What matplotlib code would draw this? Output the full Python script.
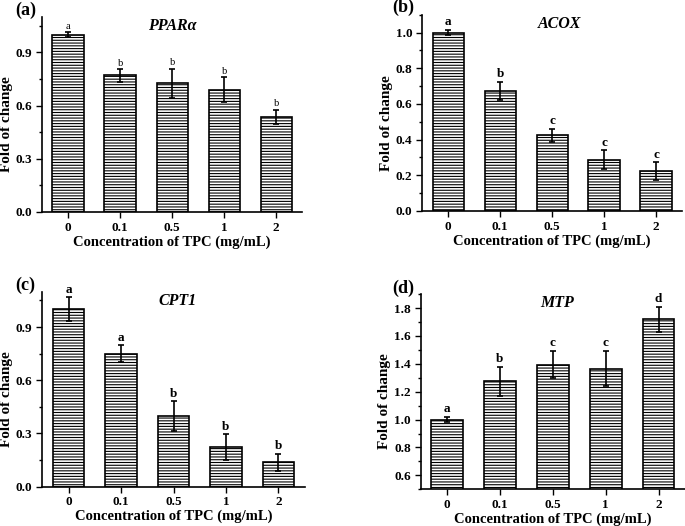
import numpy as np
import matplotlib
matplotlib.use('Agg')
import matplotlib.pyplot as plt
from matplotlib.ticker import MultipleLocator

plt.rcParams['font.family'] = 'Liberation Serif'
plt.rcParams['font.weight'] = 'bold'
plt.rcParams['hatch.linewidth'] = 0.8

# data
concentrations = ['0', '0.1', '0.5', '1', '2']

ppara_mean = [1.0, 0.77, 0.725, 0.69, 0.535]
ppara_err = [0.012, 0.035, 0.083, 0.07, 0.04]
ppara_letters = ['a', 'b', 'b', 'b', 'b']

acox_mean = [1.0, 0.674, 0.423, 0.288, 0.223]
acox_err = [0.015, 0.05, 0.037, 0.053, 0.05]
acox_letters = ['a', 'b', 'c', 'c', 'c']

cpt1_mean = [1.0, 0.75, 0.397, 0.222, 0.137]
cpt1_err = [0.068, 0.046, 0.085, 0.074, 0.05]
cpt1_letters = ['a', 'a', 'b', 'b', 'b']

mtp_mean = [1.0, 1.275, 1.395, 1.366, 1.719]
mtp_err = [0.02, 0.105, 0.1, 0.128, 0.09]
mtp_letters = ['a', 'b', 'c', 'c', 'd']


def draw_panel(ax, means, errs, letters, title, title_x, label, label_pos,
               ylim, major, letter_style):
    x = np.arange(len(concentrations))
    ax.bar(x, means, width=0.6, color='white', edgecolor='black',
           linewidth=1.2, hatch='------', zorder=2)
    ax.errorbar(x, means, yerr=errs, fmt='none', ecolor='black',
                elinewidth=1.2, capsize=2.5, capthick=1.2, zorder=3)
    for xi, m, e, s in zip(x, means, errs, letters):
        ax.text(xi, m + e + 0.008 * (ylim[1] - ylim[0]), s,
                ha='center', va='bottom', **letter_style)

    ax.set_xlim(-0.5, 4.5)
    ax.set_ylim(*ylim)
    ax.set_xticks(x)
    ax.set_xticklabels(concentrations)
    ax.yaxis.set_major_locator(MultipleLocator(major))
    ax.yaxis.set_minor_locator(MultipleLocator(major / 2))
    ax.yaxis.set_major_formatter(plt.FormatStrFormatter('%.1f'))
    ax.tick_params(axis='both', which='major', direction='out', length=4,
                   width=1.0, labelsize=9.5, pad=3)
    ax.tick_params(axis='y', which='minor', direction='out', length=2.5, width=1.0)
    ax.spines['top'].set_visible(False)
    ax.spines['right'].set_visible(False)
    ax.spines['left'].set_linewidth(1.2)
    ax.spines['bottom'].set_linewidth(1.2)

    ax.set_xlabel('Concentration of TPC (mg/mL)', fontsize=10.5, fontweight='bold',
                  labelpad=1)
    ax.set_ylabel('Fold of change', fontsize=11, fontweight='bold', labelpad=2,
                  y=0.45)
    ax.text(title_x, 0.995, title, transform=ax.transAxes, ha='center', va='top',
            fontsize=11.5, fontweight='bold', fontstyle='italic')
    ax.text(label_pos[0], label_pos[1], label, transform=ax.transAxes,
            ha='left', va='top', fontsize=13, fontweight='bold')


fig = plt.figure(figsize=(6.85, 5.26), dpi=100)
ax_a = fig.add_axes([0.0613, 0.597, 0.380, 0.371])
ax_b = fig.add_axes([0.6165, 0.599, 0.379, 0.373])
ax_c = fig.add_axes([0.0618, 0.0747, 0.383, 0.371])
ax_d = fig.add_axes([0.614, 0.0698, 0.386, 0.371])

small = dict(fontsize=7.5, fontweight='normal')
bold = dict(fontsize=9.5, fontweight='bold')

draw_panel(ax_a, ppara_mean, ppara_err, ppara_letters, 'PPARα', 0.50,
           '(a)', (-0.104, 1.08), (0, 1.1), 0.3, small)
draw_panel(ax_b, acox_mean, acox_err, acox_letters, 'ACOX', 0.53,
           '(b)', (-0.116, 1.08), (0, 1.1), 0.2, bold)
draw_panel(ax_c, cpt1_mean, cpt1_err, cpt1_letters, 'CPT1', 0.517,
           '(c)', (-0.104, 1.075), (0, 1.1), 0.3, bold)
draw_panel(ax_d, mtp_mean, mtp_err, mtp_letters, 'MTP', 0.515,
           '(d)', (-0.109, 1.075), (0.5, 1.9), 0.2, bold)

fig.savefig('out.png', dpi=100)
